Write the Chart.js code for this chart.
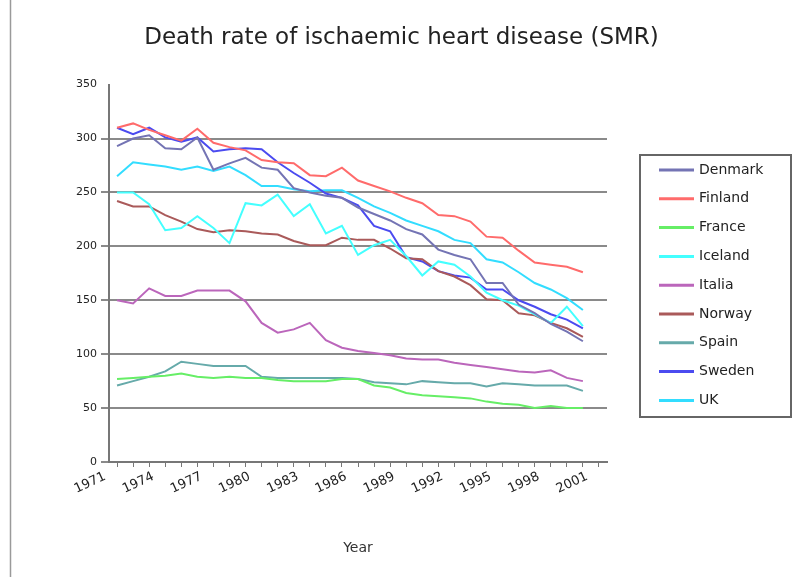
<!DOCTYPE html>
<html>
<head>
<meta charset="utf-8">
<title>Death rate of ischaemic heart disease (SMR)</title>
<script src="https://cdn.jsdelivr.net/npm/chart.js@4/dist/chart.umd.min.js"></script>
<style>
  html, body { margin: 0; padding: 0; background: #fff; }
  #wrap { width: 803px; height: 577px; }
</style>
</head>
<body>
<div id="wrap"><canvas id="chart" width="803" height="577"></canvas></div>
<script>
const years = ['1971', '1972', '1973', '1974', '1975', '1976', '1977', '1978', '1979', '1980',
               '1981', '1982', '1983', '1984', '1985', '1986', '1987', '1988', '1989', '1990',
               '1991', '1992', '1993', '1994', '1995', '1996', '1997', '1998', '1999', '2000', '2001'];

const denmark = [293, 300, 303, 291, 290, 301, 271, 277, 282, 273, 271, 254, 250, 247, 245,
                 236, 230, 224, 216, 211, 197, 192, 188, 166, 166, 146, 138, 128, 121, 112];
const finland = [310, 314, 308, 303, 298, 309, 296, 292, 289, 280, 278, 277, 266, 265, 273,
                 261, 256, 251, 245, 240, 229, 228, 223, 209, 208, 196, 185, 183, 181, 176];
const france = [77, 78, 79, 80, 82, 79, 78, 79, 78, 78, 76, 75, 75, 75, 77,
                77, 71, 69, 64, 62, 61, 60, 59, 56, 54, 53, 50, 52, 50, 50];
const iceland = [250, 250, 239, 215, 217, 228, 217, 203, 240, 238, 248, 228, 239, 212, 219,
                 192, 201, 206, 191, 173, 186, 183, 172, 157, 150, 145, 137, 129, 144, 126];
const italia = [150, 147, 161, 154, 154, 159, 159, 159, 149, 129, 120, 123, 129, 113, 106,
                103, 101, 99, 96, 95, 95, 92, 90, 88, 86, 84, 83, 85, 78, 75];
const norway = [242, 237, 237, 229, 223, 216, 213, 215, 214, 212, 211, 205, 201, 201, 208,
                206, 206, 198, 189, 188, 177, 172, 164, 151, 150, 138, 136, 129, 124, 116];
const spain = [71, 75, 79, 84, 93, 91, 89, 89, 89, 79, 78, 78, 78, 78, 78,
               77, 74, 73, 72, 75, 74, 73, 73, 70, 73, 72, 71, 71, 71, 66];
const sweden = [310, 304, 310, 301, 297, 301, 288, 290, 291, 290, 278, 268, 259, 249, 245,
                238, 219, 214, 190, 186, 177, 173, 171, 160, 160, 150, 144, 137, 132, 124];
const uk = [265, 278, 276, 274, 271, 274, 270, 274, 266, 256, 256, 253, 251, 252, 252,
            245, 237, 231, 224, 219, 214, 206, 203, 188, 185, 176, 166, 160, 152, 141];

const yTicks = [0, 50, 100, 150, 200, 250, 300, 350];

const FONT = '"DejaVu Sans", Verdana, sans-serif';

function series(label, data, color) {
    return {
        label: label,
        data: data,
        borderColor: color,
        backgroundColor: color,
        borderWidth: 2,
        pointRadius: 0,
        tension: 0,
        fill: false,
    };
}

// white page + the thin frame line on the left
const frame = {
    id: 'frame',
    beforeDraw(chart) {
        const ctx = chart.ctx;
        ctx.save();
        ctx.fillStyle = '#fff';
        ctx.fillRect(0, 0, chart.width, chart.height);
        ctx.strokeStyle = '#9a9a9a';
        ctx.lineWidth = 1.5;
        ctx.beginPath();
        ctx.moveTo(10.5, 0);
        ctx.lineTo(10.5, chart.height);
        ctx.stroke();
        ctx.restore();
    }
};

// boxed legend on the right, like the spreadsheet one
const boxLegend = {
    id: 'boxLegend',
    afterDraw(chart) {
        const ctx = chart.ctx;
        ctx.save();
        ctx.strokeStyle = '#666';
        ctx.lineWidth = 2;
        ctx.strokeRect(640, 155, 151, 262);
        ctx.font = '14px ' + FONT;
        ctx.textBaseline = 'middle';
        chart.data.datasets.forEach((ds, i) => {
            const y = 170 + i * 28.8;
            ctx.strokeStyle = ds.borderColor;
            ctx.lineWidth = 3;
            ctx.beginPath();
            ctx.moveTo(659, y);
            ctx.lineTo(694, y);
            ctx.stroke();
            ctx.fillStyle = '#222';
            ctx.fillText(ds.label, 699, y);
        });
        ctx.restore();
    }
};

new Chart(document.getElementById('chart'), {
    type: 'line',
    data: {
        labels: years,
        datasets: [
            series('Denmark', denmark, '#7474b4'),
            series('Finland', finland, '#ff6b6b'),
            series('France', france, '#66ee66'),
            series('Iceland', iceland, '#44ffff'),
            series('Italia', italia, '#bb66bb'),
            series('Norway', norway, '#aa5a5a'),
            series('Spain', spain, '#66aaaa'),
            series('Sweden', sweden, '#4b4bf0'),
            series('UK', uk, '#33ddff'),
        ]
    },
    options: {
        responsive: false,
        animation: false,
        layout: { padding: 0 },
        scales: {
            x: {
                offset: true,
                grid: {
                    display: true,
                    drawOnChartArea: false,
                    tickLength: 5,
                    color: '#777',
                },
                border: { display: true, color: '#777', width: 2 },
                ticks: {
                    autoSkip: false,
                    maxRotation: 25,
                    minRotation: 25,
                    color: '#222',
                    font: { family: FONT, size: 13 },
                    padding: 2,
                    labelOffset: -12,
                    callback: (val, idx) => idx % 3 === 0 ? years[idx] : '',
                },
                title: {
                    display: true,
                    text: 'Year',
                    color: '#333',
                    font: { family: FONT, size: 14 },
                    padding: { top: 4, bottom: 20 },
                },
                afterFit: (scale) => { scale.height = 115; },
            },
            y: {
                min: 0,
                max: 350,
                afterBuildTicks: (scale) => { scale.ticks = yTicks.map(v => ({ value: v })); },
                grid: {
                    color: (c) => (c.tick && c.tick.value === 350) ? 'rgba(0,0,0,0)' : '#8a8a8a',
                    lineWidth: 2,
                    tickLength: 8,
                },
                border: { display: true, color: '#777', width: 2 },
                ticks: {
                    color: '#222',
                    font: { family: FONT, size: 11 },
                    padding: 4,
                },
                afterFit: (scale) => { scale.width = 109; },
            },
            // empty right-hand column that leaves room for the legend box
            yr: {
                position: 'right',
                display: true,
                grid: { display: false },
                border: { display: false },
                ticks: { display: false },
                afterFit: (scale) => { scale.width = 196; },
            },
        },
        plugins: {
            legend: { display: false },
            tooltip: { enabled: false },
            title: {
                display: true,
                text: 'Death rate of ischaemic heart disease (SMR)',
                color: '#222',
                font: { family: FONT, size: 23, weight: 'normal' },
                padding: { top: 24, bottom: 33 },
            },
        },
    },
    plugins: [frame, boxLegend],
});
</script>
</body>
</html>
